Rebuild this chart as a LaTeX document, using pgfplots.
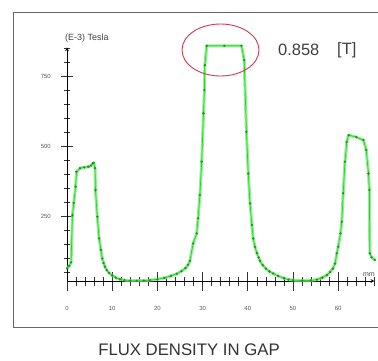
\documentclass[border=0pt]{standalone}
\usepackage{pgfplots}
\pgfplotsset{compat=1.18}
\usepackage{fontspec}
\setmainfont{Liberation Sans}
\definecolor{glow}{RGB}{110,236,110}
\definecolor{lin}{RGB}{40,210,40}
\definecolor{mk}{RGB}{40,140,40}
\definecolor{ell}{RGB}{205,60,80}
\pgfplotstableread{
x y
0 63
0.5 72
0.9 85
1.2 253
1.5 297
1.9 355
2.1 408
2.9 421
3.8 424
4.7 426
5.3 430
5.7 438
5.9 440
6.2 421
6.3 343
6.7 248
7.1 170
7.5 129
7.8 99
8.1 82
8.4 69
8.8 57
9.3 47
10.0 38
10.8 30
11.7 24
12.7 21
14.0 19.5
15.4 19
17.0 19.5
18.4 21
20.0 24
21.5 29
23.0 36
24.3 44
25.3 53
26.2 64
26.8 76
27.2 90
27.9 152
28.7 188
29.0 242
29.4 325
29.8 444
30.2 617
30.4 700
30.5 789
30.9 858
34.8 858
38.6 858
39.2 807
39.7 551
40.1 402
40.5 295
40.9 218
41.2 170
41.6 140
42.0 118
42.4 102
42.7 90
43.3 75
44.0 62
44.8 52
45.6 45
46.7 36
48.0 28
49.0 23
50.0 21
52.0 19.5
54.0 20
55.3 23
56.5 30
57.5 39
58.2 50
58.8 62
59.3 80
59.7 117
60.0 140
60.5 188
60.8 230
61.1 331
61.5 444
61.9 515
62.3 539
64 532
65.6 521
66.2 486
66.7 402
66.9 343
67.0 117
67.4 103
68.1 93
}\flux
\pgfplotsset{
  base/.style={
    at={(0,0)}, anchor=south west,
    scale only axis, width=307.36bp, height=233.52bp,
    xmin=0, xmax=68, ymin=18, ymax=852,
    axis line style={-, black, line width=0.7bp},
    tick align=outside,
    every tick/.append style={black!80, line width=0.6bp},
    /pgf/number format/assume math mode=true,
    xticklabel style={font=\fontsize{6}{7}\selectfont, text=black!65, inner sep=0pt, anchor=north, yshift=-16bp},
    yticklabel style={font=\fontsize{6}{7}\selectfont, text=black!65, inner sep=0pt, anchor=east, xshift=-10bp},
  }
}
\begin{document}
\begin{tikzpicture}[x=1bp,y=1bp]
\clip (-67,-80) rectangle (311,281);
\fill[white] (-67,-80) rectangle (311,281);
\draw[black!60, line width=0.9bp] (330,269) -- (-54,269) -- (-54,-46) -- (330,-46);
% x axis
\begin{axis}[base, axis x line=bottom, axis y line=none,
  xtick={0,10,...,60}, minor xtick={2,4,...,68},
  major tick length=19bp, minor tick length=9bp]
\addplot[draw=none] coordinates {(0,18)};
\end{axis}
% y axis and data
\begin{axis}[base, axis y line=left, axis x line=none,
  ytick={250,500,750}, minor ytick={50,100,...,850},
  major tick length=12bp, minor tick length=6bp, clip=false]
\addplot[glow, line width=3bp, opacity=0.75, line join=round] table {\flux};
\addplot[lin, line width=0.7bp, mark=*, mark size=0.8bp,
  mark options={fill=mk, draw=mk}] table {\flux};
\end{axis}
\node[anchor=west, inner sep=0pt, text=black!75, font=\fontsize{9}{10}\selectfont] at (-2,243) {(E-3) Tesla};
\node[anchor=east, inner sep=0pt, text=black!70, font=\fontsize{7}{8}\selectfont] at (308,6) {mm};
\draw[ell, line width=0.9bp] (153.5,231) ellipse [x radius=38.5, y radius=26];
\node[anchor=west, inner sep=0pt, text=black!75, font=\fontsize{16.5}{18}\selectfont] at (211,231) {0.858};
\node[anchor=west, inner sep=0pt, text=black!75, font=\fontsize{16.5}{18}\selectfont] at (270,231) {[T]};
\node[inner sep=0pt, text=black!80, font=\fontsize{16.8}{18}\selectfont] at (122,-69) {FLUX DENSITY IN GAP};
\end{tikzpicture}
\end{document}
